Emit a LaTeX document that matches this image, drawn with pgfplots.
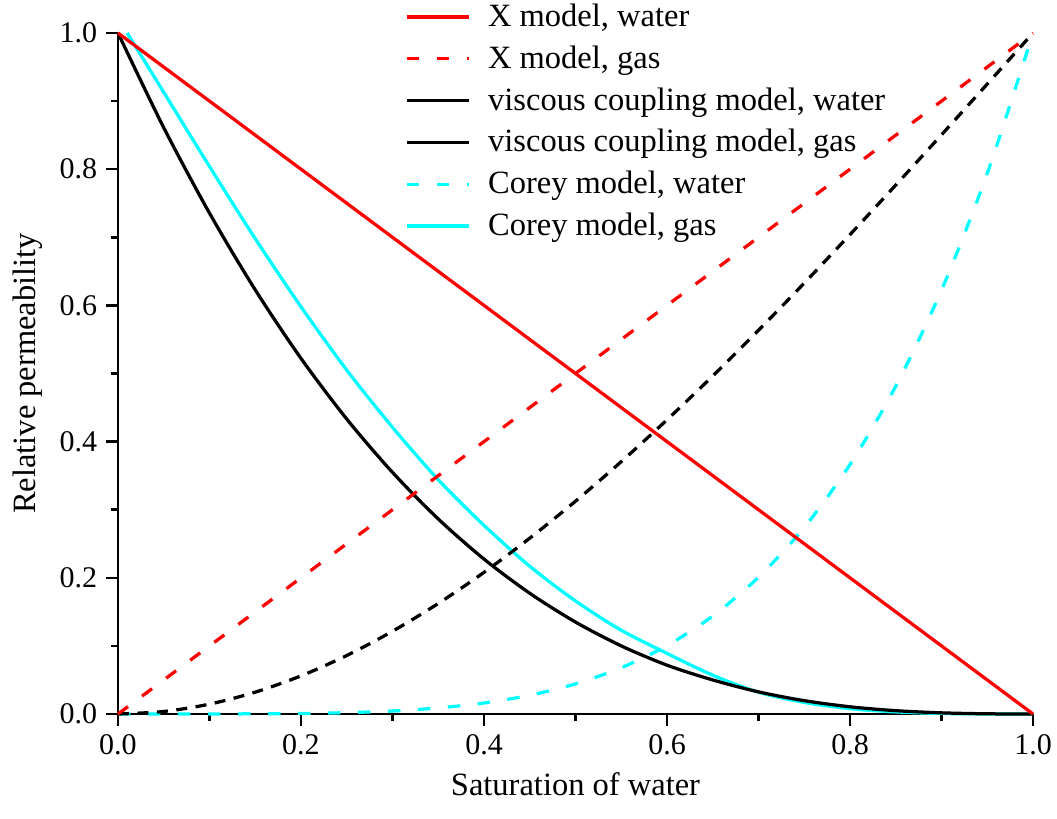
\documentclass[border=0pt]{standalone}
\usepackage{fontspec}
\setmainfont{Liberation Serif}
\usepackage{pgfplots}
\pgfplotsset{compat=1.18}
\definecolor{cyanO}{RGB}{0,255,255}
\definecolor{redO}{RGB}{255,0,0}
\tikzset{
  rdash/.style={dash pattern=on 5pt off 7pt},
  kdash/.style={dash pattern=on 4.4pt off 3.4pt},
}
\begin{document}
\begin{tikzpicture}
\useasboundingbox (-47.2pt,-41.6pt) rectangle (375.6pt,285.6pt);
\begin{axis}[
  at={(0,0)}, anchor=south west,
  scale only axis, width=366pt, height=272.4pt,
  xmin=0, xmax=1, ymin=0, ymax=1, clip=false,
  axis x line*=bottom, axis y line*=left,
  axis line style={line width=1pt, -},
  xtick={0,0.2,...,1}, ytick={0,0.2,...,1},
  minor x tick num=1, minor y tick num=1,
  tick align=outside, major tick length=4.8pt, minor tick length=2.8pt,
  every tick/.style={line width=1pt, black},
  xticklabel style={/pgf/number format/.cd, fixed, fixed zerofill, precision=1},
  yticklabel style={/pgf/number format/.cd, fixed, fixed zerofill, precision=1},
  /pgf/number format/assume math mode=true,
  tick label style={font=\fontsize{12}{14}\selectfont},
  label style={font=\fontsize{13}{15}\selectfont},
  xlabel={Saturation of water}, ylabel={Relative permeability},
  legend style={draw=none, fill=none, at={(axis description cs:0.313,1.049)}, anchor=north west,
    font=\fontsize{13}{15}\selectfont, row sep=3.2pt, inner sep=0pt,
    nodes={inner sep=1.5pt}},
  legend cell align=left,
  legend image code/.code={\draw[#1] (0pt,0pt) -- (25pt,0pt); \path (30.5pt,0pt);},
  every axis plot/.append style={line width=1.3pt},
]
\addlegendimage{redO, solid, line width=1.3pt}
\addlegendentry{X model, water}
\addlegendimage{redO, rdash, line width=1.3pt}
\addlegendentry{X model, gas}
\addlegendimage{black, solid, line width=1.3pt}
\addlegendentry{viscous coupling model, water}
\addlegendimage{black, solid, line width=1.3pt}
\addlegendentry{viscous coupling model, gas}
\addlegendimage{cyanO, rdash, line width=1.3pt}
\addlegendentry{Corey model, water}
\addlegendimage{cyanO, solid, line width=1.3pt}
\addlegendentry{Corey model, gas}

% Corey, water
\addplot[forget plot, cyanO, rdash, smooth] coordinates {
(0,0) (0.1,0.00003) (0.2,0.0007) (0.25,0.0020) (0.3,0.0044) (0.35,0.0089) (0.4,0.0162)
(0.45,0.0275) (0.5,0.0442) (0.55,0.0679) (0.6,0.1004) (0.65,0.1439) (0.7,0.2009)
(0.75,0.2740) (0.8,0.3664) (0.85,0.4813) (0.9,0.6224) (0.95,0.7939) (1,1)};
% Corey, gas
\addplot[forget plot, cyanO, smooth] coordinates {
(0.01,1) (0.05,0.913) (0.1,0.804) (0.15,0.698) (0.2,0.598) (0.25,0.505) (0.3,0.421)
(0.35,0.344) (0.4,0.277) (0.45,0.217) (0.5,0.166) (0.55,0.123) (0.6,0.089)
(0.65,0.057) (0.7,0.032) (0.75,0.017) (0.8,0.0078) (0.85,0.0031) (0.9,0.0008)
(0.95,0.0001) (1,0)};
% viscous coupling, water
\addplot[forget plot, black, kdash, smooth] coordinates {
(0,0) (0.05,0.0037) (0.1,0.0145) (0.15,0.0321) (0.2,0.0560) (0.25,0.0859) (0.3,0.1215)
(0.35,0.1623) (0.4,0.2080) (0.45,0.2582) (0.5,0.3125) (0.55,0.3706) (0.6,0.4320)
(0.65,0.4964) (0.7,0.5635) (0.75,0.6328) (0.8,0.7040) (0.85,0.7767) (0.9,0.8505)
(0.95,0.9251) (1,1)};
% viscous coupling, gas
\addplot[forget plot, black, smooth] coordinates {
(0,1) (0.05,0.861) (0.1,0.7355) (0.15,0.6228) (0.2,0.5222) (0.25,0.4331) (0.3,0.3548)
(0.35,0.2864) (0.4,0.2275) (0.45,0.1773) (0.5,0.1350) (0.55,0.1000) (0.6,0.0717)
(0.65,0.0500) (0.7,0.0325) (0.75,0.0196) (0.8,0.0106) (0.85,0.0049) (0.9,0.0017)
(0.95,0.0003) (1,0)};
% X model
\addplot[forget plot, redO, rdash] coordinates {(0,0) (1,1)};
\addplot[forget plot, redO] coordinates {(0,1) (1,0)};
\end{axis}
\end{tikzpicture}
\end{document}
